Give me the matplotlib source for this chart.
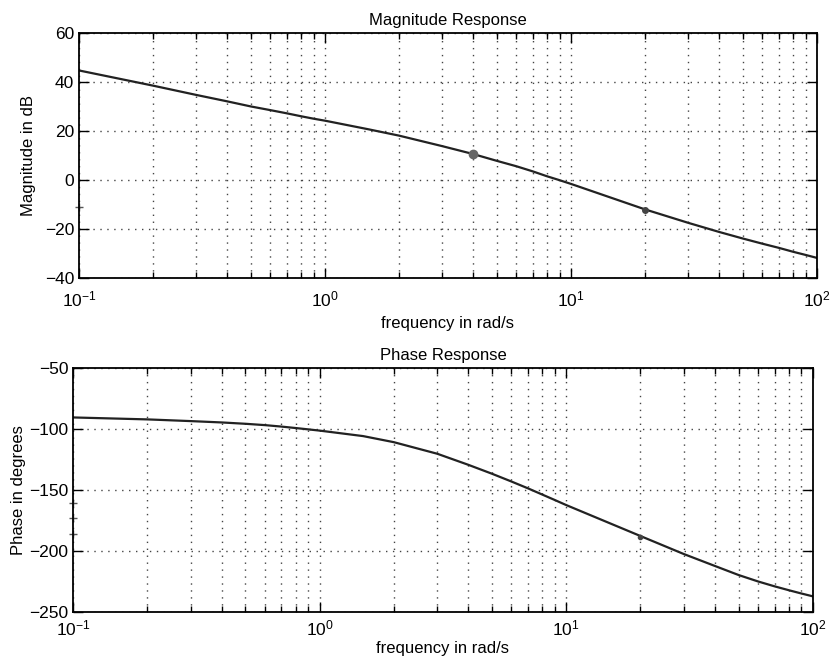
import numpy as np
import matplotlib
matplotlib.use("Agg")
import matplotlib.pyplot as plt
from matplotlib.ticker import LogLocator, NullFormatter

plt.rcParams['font.family'] = ['Liberation Sans', 'DejaVu Sans']
plt.rcParams['mathtext.fontset'] = 'custom'
plt.rcParams['mathtext.rm'] = 'Liberation Sans'
plt.rcParams['mathtext.it'] = 'Liberation Sans'

# ----------------- Data -----------------
freq = [0.1, 0.2, 0.3, 0.4, 0.5, 0.6, 0.7, 0.8, 0.9,
        1, 1.5, 2, 3, 4, 5, 6, 7, 8, 9,
        10, 20, 30, 40, 50, 60, 70, 80, 90, 100]
mag_db = [44.8, 38.6, 34.8, 32.2, 30.1, 28.6, 27.3, 26.1, 25.1,
          24.3, 20.8, 18.2, 13.9, 10.7, 7.9, 5.7, 3.6, 1.6, 0.0,
          -1.5, -11.9, -17.4, -21.1, -23.8, -25.9, -27.6, -29.2, -30.5, -31.7]
phase_deg = [-90.7, -92.3, -93.7, -94.8, -95.9, -97.0, -98.2, -99.4, -100.5,
             -101.5, -106.0, -111.0, -120.5, -129.5, -136.9, -143.3, -148.9, -154.0, -158.5,
             -162.6, -188.0, -202.8, -212.5, -220.0, -225.3, -229.3, -232.5, -235.2, -237.5]

# highlighted points on the curves
mark_big_f, mark_big_m = [4], [10.6]
mark_small_f, mark_small_m = [20], [-12.0]
mark_ph_f, mark_ph_p = [20], [-188.5]

# small crosses sitting on the left edge
edge_mag_f, edge_mag_m = [0.1], [-10.9]
edge_ph_f, edge_ph_p = [0.1, 0.1, 0.1], [-160.7, -173.3, -186.2]

mag_ticks = [-40, -20, 0, 20, 40, 60]
phase_ticks = [-250, -200, -150, -100, -50]


def style_axis(ax, xpad, xlabelpad):
    ax.set_xscale('log')
    ax.set_xlim(0.1, 100)
    ax.xaxis.set_major_locator(LogLocator(base=10))
    ax.xaxis.set_minor_locator(LogLocator(base=10, subs=np.arange(2, 10)))
    ax.xaxis.set_minor_formatter(NullFormatter())
    ax.grid(True, which='major', axis='both', linestyle=(0, (1, 4)), color='#444444', linewidth=1.0)
    ax.grid(True, which='minor', axis='x', linestyle=(0, (1, 4)), color='#444444', linewidth=1.0)
    ax.tick_params(which='both', direction='in', top=True, right=True,
                   labelsize=12.5, colors='black', width=1.0)
    ax.tick_params(axis='x', which='major', pad=xpad)
    ax.tick_params(which='major', length=7)
    ax.tick_params(which='minor', length=4)
    for sp in ax.spines.values():
        sp.set_linewidth(1.3)
    ax.set_xlabel('frequency in rad/s', fontsize=12, labelpad=xlabelpad)


fig = plt.figure(figsize=(8.31, 6.64), dpi=100)
ax1 = fig.add_axes([0.095, 0.581, 0.888, 0.369])
ax2 = fig.add_axes([0.088, 0.079, 0.890, 0.367])

# ----------------- Magnitude -----------------
ax1.plot(freq, mag_db, color='#222222', linewidth=1.6)
ax1.plot(mark_big_f, mark_big_m, 'o', color='#666666', markersize=6)
ax1.plot(mark_small_f, mark_small_m, 'o', color='#444444', markersize=4)
ax1.plot(edge_mag_f, edge_mag_m, '+', color='#555555', markersize=6, clip_on=False)
ax1.set_ylim(-40, 60)
ax1.set_yticks(mag_ticks)
style_axis(ax1, 8, 5)
ax1.set_ylabel('Magnitude in dB', fontsize=12, labelpad=6)
ax1.set_title('Magnitude Response', fontsize=12, pad=6)

# ----------------- Phase -----------------
ax2.plot(freq, phase_deg, color='#222222', linewidth=1.6)
ax2.plot(mark_ph_f, mark_ph_p, 'o', color='#444444', markersize=3)
ax2.plot(edge_ph_f, edge_ph_p, '+', color='#555555', markersize=6, clip_on=False)
ax2.set_ylim(-250, -50)
ax2.set_yticks(phase_ticks)
style_axis(ax2, 5, 2)
ax2.set_ylabel('Phase in degrees', fontsize=12, labelpad=2)
ax2.set_title('Phase Response', fontsize=12, pad=6)

fig.savefig('out.png', dpi=100, facecolor='white')
